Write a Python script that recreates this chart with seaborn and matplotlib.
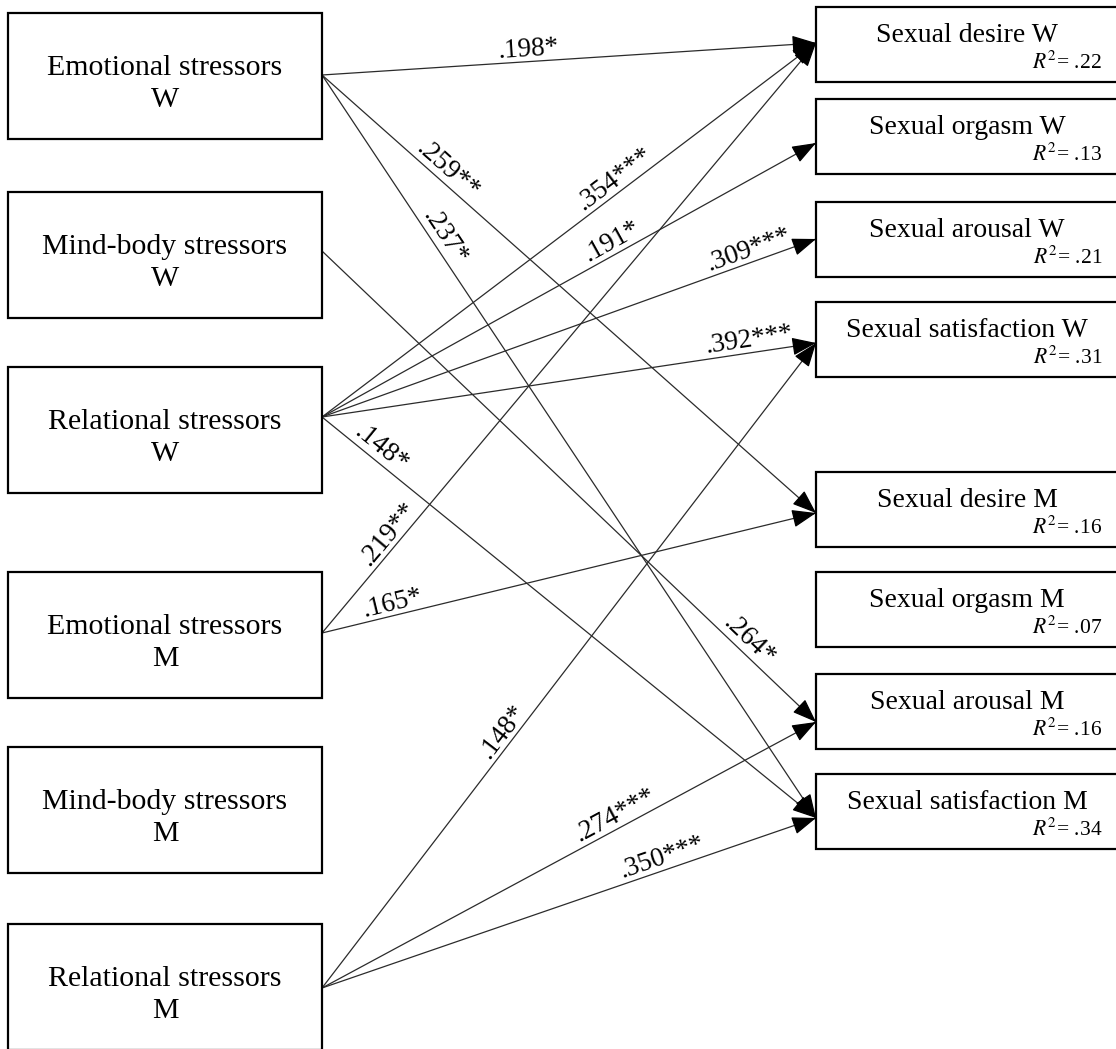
import numpy as np
import pandas as pd
import matplotlib
matplotlib.use("Agg")
import matplotlib.pyplot as plt
import seaborn as sns
from matplotlib.patches import Rectangle

# ---- model content -------------------------------------------------------
predictor_names = ["Emotional stressors", "Mind-body stressors", "Relational stressors",
                   "Emotional stressors", "Mind-body stressors", "Relational stressors"]
predictor_groups = ["W", "W", "W", "M", "M", "M"]

outcome_names = ["Sexual desire W", "Sexual orgasm W", "Sexual arousal W", "Sexual satisfaction W",
                 "Sexual desire M", "Sexual orgasm M", "Sexual arousal M", "Sexual satisfaction M"]
outcome_r2 = [".22", ".13", ".21", ".31", ".16", ".07", ".16", ".34"]

# significant paths: predictor index -> outcome index, standardized coefficient
path_from = [0, 0, 0, 1, 2, 2, 2, 2, 2, 3, 3, 5, 5, 5]
path_to = [0, 4, 7, 6, 0, 1, 2, 3, 7, 0, 4, 3, 6, 7]
path_coef = [".198*", ".259**", ".237*", ".264*", ".354***", ".191*", ".309***",
             ".392***", ".148*", ".219**", ".165*", ".148*", ".274***", ".350***"]

# ---- layout (pixel space) ------------------------------------------------
W_PX, H_PX = 1116, 1049
left_x0, left_x1, left_h = 8, 322, 126
left_tops = [13, 192, 367, 572, 747, 924]
left_anchor_y = [75, 251, 417, 633, 810, 988]

right_x0, right_x1, right_h = 816, 1120, 75
right_tops = [7, 99, 202, 302, 472, 572, 674, 774]
right_anchor_y = [43, 143, 239, 343, 513, 610, 722, 818]

label_pos = [0.42, 0.238, 0.227, 0.846, 0.608, 0.599, 0.872, 0.868,
             0.103, 0.154, 0.148, 0.386, 0.606, 0.696]

sns.set_theme(style="white")
plt.rcParams["font.family"] = ["Liberation Serif", "DejaVu Serif"]
plt.rcParams["mathtext.fontset"] = "stix"

fig = plt.figure(figsize=(W_PX / 100, H_PX / 100), dpi=100)
ax = fig.add_axes([0, 0, 1, 1])
ax.set_xlim(0, W_PX)
ax.set_ylim(H_PX, 0)
ax.axis("off")

# path lines
rows = []
for k, (i, j) in enumerate(zip(path_from, path_to)):
    rows.append({"path": k, "order": 0, "x": left_x1, "y": left_anchor_y[i]})
    rows.append({"path": k, "order": 1, "x": right_x0, "y": right_anchor_y[j]})
paths = pd.DataFrame(rows)
sns.lineplot(data=paths, x="x", y="y", units="path", estimator=None, sort=False,
             color="#2b2b2b", linewidth=0.9, legend=False, ax=ax)
ax.set_xlim(0, W_PX)
ax.set_ylim(H_PX, 0)
ax.axis("off")

# arrowheads and coefficient labels
for k, (i, j) in enumerate(zip(path_from, path_to)):
    x0, y0 = left_x1, left_anchor_y[i]
    x1, y1 = right_x0, right_anchor_y[j]
    dx, dy = x1 - x0, y1 - y0
    length = np.hypot(dx, dy)
    ux, uy = dx / length, dy / length
    ax.annotate("", xy=(x1, y1), xytext=(x1 - 20 * ux, y1 - 20 * uy),
                arrowprops=dict(arrowstyle="-|>,head_length=0.75,head_width=0.28",
                                color="black", lw=0.9, shrinkA=0, shrinkB=0,
                                mutation_scale=20))
    t = label_pos[k]
    lx, ly = x0 + t * dx, y0 + t * dy
    angle = np.degrees(np.arctan2(-dy, dx))
    ax.text(lx, ly, path_coef[k], rotation=angle, rotation_mode="anchor",
            ha="center", va="bottom", fontsize=19.5, color="black")

# predictor boxes
for name, grp, top in zip(predictor_names, predictor_groups, left_tops):
    ax.add_patch(Rectangle((left_x0, top), left_x1 - left_x0, left_h,
                           fill=True, facecolor="white", edgecolor="black", lw=1.6, zorder=3))
    cy = top + left_h / 2
    ax.text((left_x0 + left_x1) / 2, cy - 1, name, ha="center", va="baseline",
            fontsize=21.5, color="black", zorder=4)
    ax.text((left_x0 + left_x1) / 2, cy + 31, grp, ha="center", va="baseline",
            fontsize=21.5, color="black", zorder=4)

# outcome boxes
for name, r2, top in zip(outcome_names, outcome_r2, right_tops):
    ax.add_patch(Rectangle((right_x0, top), right_x1 - right_x0, right_h,
                           fill=True, facecolor="white", edgecolor="black", lw=1.6, zorder=3))
    ax.text(967, top + 35, name, ha="center", va="baseline",
            fontsize=20, color="black", zorder=4)
    ax.text(1102, top + 62, r"$R^2$= " + r2, ha="right", va="baseline",
            fontsize=15.5, color="black", zorder=4)

fig.savefig("out.png", dpi=100)
